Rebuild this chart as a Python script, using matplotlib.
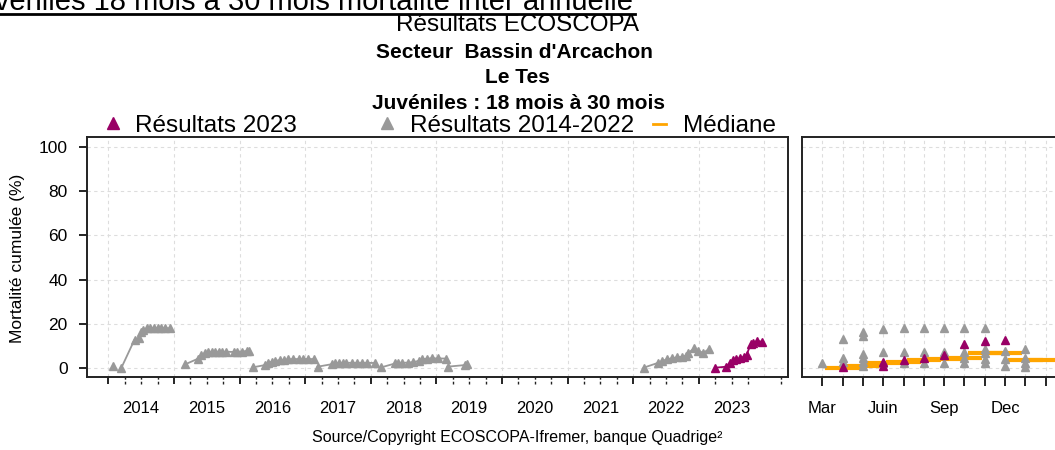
import matplotlib.pyplot as plt
from matplotlib.lines import Line2D
import numpy as np

plt.rcParams["font.family"] = ["Liberation Sans", "DejaVu Sans"]

# ---- data: cumulated mortality (%) by sampling date (decimal year) ----
dates_2014a = [2014.07]
mort_2014a = [0.9]
dates_2014 = [2014.20, 2014.40, 2014.46, 2014.50, 2014.53, 2014.59, 2014.64,
              2014.69, 2014.75, 2014.81, 2014.86, 2014.94]
mort_2014 = [0.3, 13.0, 13.7, 16.4, 17.5, 18.0, 18.0, 18.2, 18.3, 18.3, 18.2, 18.0]
dates_2015 = [2015.17, 2015.37, 2015.42, 2015.47, 2015.52, 2015.58, 2015.63, 2015.68,
              2015.73, 2015.80, 2015.91, 2015.96, 2016.03, 2016.11, 2016.15]
mort_2015 = [1.8, 4.4, 5.9, 6.9, 7.2, 7.4, 7.5, 7.5, 7.5, 7.5, 7.4, 7.5, 7.6, 7.8, 7.7]
dates_2016 = [2016.20, 2016.39, 2016.44, 2016.49, 2016.54, 2016.62, 2016.68, 2016.74,
              2016.82, 2016.90, 2016.97, 2017.05, 2017.13]
mort_2016 = [0.45, 1.5, 2.5, 3.0, 3.4, 3.7, 3.7, 4.0, 4.2, 4.2, 4.2, 4.2, 4.2]
dates_2017 = [2017.19, 2017.41, 2017.46, 2017.51, 2017.58, 2017.63, 2017.71, 2017.79,
              2017.86, 2017.94, 2018.07]
mort_2017 = [0.75, 1.9, 2.2, 2.5, 2.5, 2.5, 2.5, 2.5, 2.5, 2.5, 2.4]
dates_2018 = [2018.16, 2018.37, 2018.42, 2018.47, 2018.57, 2018.65, 2018.73, 2018.78,
              2018.85, 2018.93, 2019.03, 2019.15]
mort_2018 = [0.45, 2.2, 2.5, 2.5, 2.6, 2.8, 3.4, 4.0, 4.4, 4.5, 4.5, 4.4]
dates_2019 = [2019.17, 2019.44, 2019.47]
mort_2019 = [0.75, 1.5, 1.9]
dates_2022 = [2022.16, 2022.38, 2022.44, 2022.51, 2022.59, 2022.67, 2022.74, 2022.81,
              2022.84, 2022.93, 2022.99, 2023.07, 2023.15]
mort_2022 = [0.3, 2.5, 3.3, 4.0, 4.5, 5.0, 5.2, 5.7, 7.0, 9.0, 7.9, 7.0, 8.6]
dates_2023 = [2023.25, 2023.42, 2023.48, 2023.52, 2023.57, 2023.63, 2023.69, 2023.73,
              2023.79, 2023.83, 2023.89, 2023.97]
mort_2023 = [0.3, 0.75, 2.6, 3.7, 4.0, 4.5, 5.2, 6.2, 10.8, 11.4, 12.3, 12.0]

# ---- data: seasonal panel (month number, 13/14 = Jan/Feb next year) ----
month_hist = [3, 4, 4, 4, 5, 5, 5, 5, 5, 5, 6, 6, 6, 7, 7, 7, 8, 8, 8, 9, 9, 9,
              10, 10, 10, 10, 11, 11, 11, 11, 11, 12, 12, 12, 13, 13, 13, 13]
mort_hist = [2.2, 13.2, 4.5, 3.0, 16.5, 14.6, 6.3, 4.8, 3.0, 1.0, 17.6, 7.2, 2.2,
             18.0, 7.2, 2.2, 18.0, 7.2, 2.2, 18.3, 7.2, 2.2, 18.3, 7.2, 4.5, 2.5,
             18.3, 8.6, 6.8, 4.2, 2.2, 7.8, 4.2, 1.0, 8.6, 4.8, 2.2, 0.4]
month_2023 = [4, 6, 6, 7, 8, 9, 10, 11, 12]
mort_2023_m = [0.7, 3.0, 1.0, 3.8, 4.5, 6.0, 10.8, 12.5, 12.8]
med_month = [4, 5, 6, 7, 8, 9, 10, 11, 12, 13, 14]
med_val = [0.0, 1.2, 2.3, 3.0, 3.8, 4.2, 4.5, 6.8, 6.8, 3.8, 3.8]

years = list(range(2014, 2024))
months = list(range(3, 15))
month_labels = ["Mar", "", "", "Juin", "", "", "Sep", "", "", "Dec", "", ""]

PURPLE = "#990066"
GRAY = "#999999"
ORANGE = "#FFA500"
GRID = "#DDDDDD"
W, H = 1055, 450


def fx(px):
    return px / W


def fy(py):
    return 1 - py / H


fig = plt.figure(figsize=(W / 100, H / 100), dpi=100)
ax = fig.add_axes([fx(87), fy(377), (788 - 87) / W, (377 - 137) / H])
axm = fig.add_axes([fx(802), fy(377), (1066 - 802) / W, (377 - 137) / H])

for a in (ax, axm):
    a.set_ylim(-3.9, 104.4)
    for v in range(0, 101, 20):
        a.axhline(v, color=GRID, lw=0.8, ls=(0, (3, 3)), zorder=0)
    for s in a.spines.values():
        s.set_linewidth(1.4)
        s.set_color("#222222")

# ---- left panel: time series ----
ax.set_xlim(2013.675, 2024.36)
for yr in range(2014, 2025):
    ax.axvline(yr, color=GRID, lw=0.8, ls=(0, (3, 3)), zorder=0)

hist = [(dates_2014a, mort_2014a), (dates_2014, mort_2014), (dates_2015, mort_2015),
        (dates_2016, mort_2016), (dates_2017, mort_2017), (dates_2018, mort_2018),
        (dates_2019, mort_2019), (dates_2022, mort_2022)]
for d, m in hist:
    ax.plot(d, m, color=GRAY, lw=1.3, marker="^", ms=5.5, mec=GRAY, zorder=3)
ax.plot(dates_2023, mort_2023, color=PURPLE, lw=1.3, marker="^", ms=5.5,
        mec=PURPLE, zorder=4)

ax.set_xticks(years)
ax.set_xticklabels([])
ax.tick_params(axis="x", which="major", length=5, width=1.2, direction="out")
ax.set_xticks(np.array(years) + 0.5, minor=True)
ax.set_xticklabels([str(y) for y in years], minor=True)
ax.tick_params(axis="x", which="minor", length=0, pad=17, labelsize=12)
quarters = [q for q in np.arange(2014, 2024.3, 0.25) if q % 1 != 0]
ax.vlines(quarters, -0.029, 0, transform=ax.get_xaxis_transform(), clip_on=False,
          color="#222222", lw=1, linestyles=(0, (2, 1.5)))

ax.set_yticks(range(0, 101, 20))
ax.tick_params(axis="y", length=6, width=1.2, pad=8, labelsize=12.5)

# ---- right panel: seasonal view ----
axm.set_xlim(2, 15)
for m in months:
    axm.axvline(m, color=GRID, lw=0.8, ls=(0, (3, 3)), zorder=0)
axm.hlines(med_val, np.array(med_month) - 0.85, np.array(med_month) + 0.85,
           color=ORANGE, lw=3, zorder=2)
axm.plot(month_hist, mort_hist, ls="none", marker="^", ms=5.5, color=GRAY, zorder=3)
axm.plot(month_2023, mort_2023_m, ls="none", marker="^", ms=5.5, color=PURPLE, zorder=4)
axm.set_xticks(months)
axm.set_xticklabels(month_labels)
axm.tick_params(axis="x", length=6.5, width=1.2, pad=11, labelsize=12)
axm.set_yticks([])

# ---- texts ----
fig.text(fx(18), fy(258), "Mortalité cumulée (%)", rotation=90, ha="center",
         va="center", fontsize=12.5)
fig.text(fx(633), fy(10), "Juvéniles 18 mois à 30 mois mortalité inter annuelle",
         ha="right", va="baseline", fontsize=21)
fig.add_artist(Line2D([0, fx(635)], [fy(13.5)] * 2, color="black", lw=2))
fig.text(fx(517), fy(31), "Résultats ECOSCOPA", ha="center", va="baseline", fontsize=17.5)
fig.text(fx(514), fy(58), "Secteur  Bassin d'Arcachon", ha="center", va="baseline",
         fontsize=15, fontweight="bold")
fig.text(fx(517), fy(83), "Le Tes", ha="center", va="baseline", fontsize=15,
         fontweight="bold")
fig.text(fx(519), fy(109), "Juvéniles : 18 mois à 30 mois", ha="center", va="baseline",
         fontsize=15, fontweight="bold")

# legend
fig.add_artist(Line2D([fx(113)], [fy(123)], marker="^", ms=9, color=PURPLE, ls="none"))
fig.text(fx(135), fy(132), "Résultats 2023", va="baseline", fontsize=17.5)
fig.add_artist(Line2D([fx(387)], [fy(123)], marker="^", ms=9, color=GRAY, ls="none"))
fig.text(fx(410), fy(132), "Résultats 2014-2022", va="baseline", fontsize=17.5)
fig.add_artist(Line2D([fx(653), fx(666)], [fy(124)] * 2, color=ORANGE, lw=2))
fig.text(fx(683), fy(132), "Médiane", va="baseline", fontsize=17.5)

fig.text(fx(517), fy(442), "Source/Copyright ECOSCOPA-Ifremer, banque Quadrige²",
         ha="center", va="baseline", fontsize=11.5)

fig.savefig("out.png", dpi=100)
